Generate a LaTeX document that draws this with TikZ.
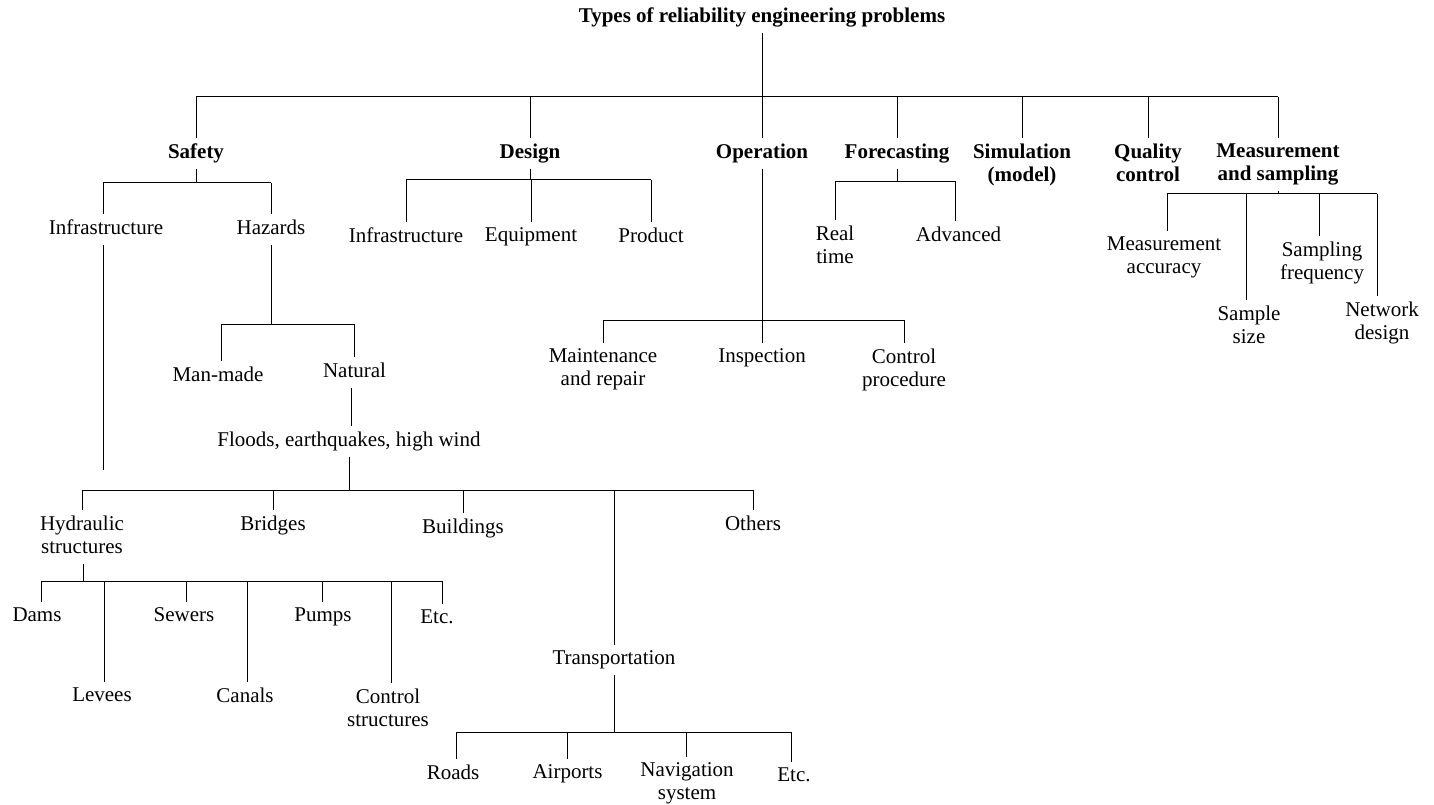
\documentclass[tikz,border=0pt]{standalone}
\usepackage{fontspec}
\setmainfont{Liberation Serif}
\newcommand\mystrut{\rule[-5pt]{0pt}{17pt}}
\begin{document}
\begin{tikzpicture}[x=1pt,y=-1pt, line width=1pt,
  lbl/.style={inner xsep=2pt, inner ysep=5pt, align=center, anchor=north, yshift=22pt,
    font=\fontsize{21}{23}\selectfont, execute at begin node=\mystrut},
  blbl/.style={lbl, font=\fontsize{21}{23}\selectfont\bfseries}]
\useasboundingbox (0,0) rectangle (1434,805);
% nodes (positions: x = text centre, y = first baseline)
\node[blbl] (title) at (762,24) {Types of reliability engineering problems};
\node[blbl] (safety) at (196,160) {Safety};
\node[blbl] (design) at (530,160) {Design};
\node[blbl] (operation) at (762,160) {Operation};
\node[blbl] (forecasting) at (897,160) {Forecasting};
\node[blbl] (simulation) at (1022,160) {Simulation\\(model)\mystrut};
\node[blbl] (quality) at (1148,160) {Quality\\control\mystrut};
\node[blbl] (measure) at (1278,160) {Measurement\\and sampling\mystrut};
\node[lbl] (sinfra) at (106,236) {Infrastructure};
\node[lbl] (hazards) at (271,236) {Hazards};
\node[lbl] (dinfra) at (406,244) {Infrastructure};
\node[lbl] (equip) at (531,244) {Equipment};
\node[lbl] (product) at (651,244) {Product};
\node[lbl] (realtime) at (835,242) {Real\\time\mystrut};
\node[lbl] (advanced) at (958.5,243) {Advanced};
\node[lbl] (macc) at (1164,253) {Measurement\\accuracy\mystrut};
\node[lbl] (ssize) at (1249,322) {Sample\\size\mystrut};
\node[lbl] (sfreq) at (1322,258) {Sampling\\frequency\mystrut};
\node[lbl] (netd) at (1382,318) {Network\\design\mystrut};
\node[lbl] (manmade) at (218,383) {Man-made};
\node[lbl] (natural) at (354.5,379) {Natural};
\node[lbl] (floods) at (349,448) {Floods, earthquakes, high wind};
\node[lbl] (maint) at (603,365) {Maintenance\\and repair\mystrut};
\node[lbl] (insp) at (762,365) {Inspection};
\node[lbl] (cproc) at (904,365) {Control\\procedure\mystrut};
\node[lbl] (hydro) at (82,532) {Hydraulic\\structures\mystrut};
\node[lbl] (bridges) at (273,532) {Bridges};
\node[lbl] (buildings) at (463,535) {Buildings};
\node[lbl] (transp) at (614,667) {Transportation};
\node[lbl] (others) at (753,532) {Others};
\node[lbl] (dams) at (37,624) {Dams};
\node[lbl] (levees) at (102,704) {Levees};
\node[lbl] (sewers) at (184,624) {Sewers};
\node[lbl] (canals) at (245,704) {Canals};
\node[lbl] (pumps) at (323,624) {Pumps};
\node[lbl] (cstruct) at (388,705) {Control\\structures\mystrut};
\node[lbl] (etca) at (437,626) {Etc.};
\node[lbl] (roads) at (453,781) {Roads};
\node[lbl] (airports) at (567.5,781) {Airports};
\node[lbl] (navsys) at (687,779) {Navigation\\system\mystrut};
\node[lbl] (etcb) at (794,784) {Etc.};
% bar levels
\coordinate (bTop) at (0,97);
\coordinate (bSafety) at (0,183);
\coordinate (bDesign) at (0,180);
\coordinate (bFore) at (0,182);
\coordinate (bMeas) at (0,194);
\coordinate (bHaz) at (0,324);
\coordinate (bOper) at (0,320);
\coordinate (bFlood) at (0,490);
\coordinate (bHydro) at (0,581);
\coordinate (bTransp) at (0,732);
\coordinate (endInfra) at (0,470);
% root
\draw (title.south) -- (operation.north);
\draw (safety.north |- bTop) -- (measure.north |- bTop);
\foreach \c in {safety,design,forecasting,simulation,quality,measure}
  \draw (\c.north |- bTop) -- (\c.north);
% safety
\draw (safety.south) -- (safety.south |- bSafety);
\draw ([xshift=-3pt]sinfra.north |- bSafety) -- (hazards.north |- bSafety);
\foreach \c/\d in {sinfra/-3,hazards/0} \draw ([xshift=\d pt]\c.north |- bSafety) -- ([xshift=\d pt]\c.north);
\draw ([xshift=-3pt]sinfra.south) -- ([xshift=-3pt]sinfra.south |- endInfra);
% design
\draw (design.south) -- (design.south |- bDesign);
\draw (dinfra.north |- bDesign) -- (product.north |- bDesign);
\foreach \c in {dinfra,equip,product} \draw (\c.north |- bDesign) -- (\c.north);
% forecasting
\draw (forecasting.south) -- (forecasting.south |- bFore);
\draw (realtime.north |- bFore) -- ([xshift=-3pt]advanced.north |- bFore);
\foreach \c/\d in {realtime/0,advanced/-3} \draw ([xshift=\d pt]\c.north |- bFore) -- ([xshift=\d pt]\c.north);
% measurement
\draw (measure.south) -- (measure.south |- bMeas);
\draw ([xshift=3pt]macc.north |- bMeas) -- ([xshift=-5pt]netd.north |- bMeas);
\foreach \c/\d in {macc/3,ssize/-3,sfreq/-3,netd/-5} \draw ([xshift=\d pt]\c.north |- bMeas) -- ([xshift=\d pt]\c.north);
% hazards
\draw (hazards.south) -- (hazards.south |- bHaz);
\draw ([xshift=3pt]manmade.north |- bHaz) -- (natural.north |- bHaz);
\foreach \c/\d in {manmade/3,natural/0} \draw ([xshift=\d pt]\c.north |- bHaz) -- ([xshift=\d pt]\c.north);
\draw ([xshift=-3pt]natural.south) -- ([xshift=-3pt]natural.south |- floods.north);
% operation
\draw (operation.south) -- (insp.north);
\draw (maint.north |- bOper) -- (cproc.north |- bOper);
\foreach \c in {maint,cproc} \draw (\c.north |- bOper) -- (\c.north);
% floods
\draw (floods.south) -- (floods.south |- bFlood);
\draw (hydro.north |- bFlood) -- (others.north |- bFlood);
\foreach \c in {hydro,bridges,buildings,transp,others} \draw (\c.north |- bFlood) -- (\c.north);
% hydraulic
\draw ([xshift=1pt]hydro.south) -- ([xshift=1pt]hydro.south |- bHydro);
\draw ([xshift=4pt]dams.north |- bHydro) -- ([xshift=5pt]etca.north |- bHydro);
\foreach \c/\d in {dams/4,levees/2,sewers/2,canals/2,pumps/-1,cstruct/3,etca/5}
  \draw ([xshift=\d pt]\c.north |- bHydro) -- ([xshift=\d pt]\c.north);
% transportation
\draw (transp.south) -- (transp.south |- bTransp);
\draw ([xshift=3pt]roads.north |- bTransp) -- ([xshift=-3pt]etcb.north |- bTransp);
\foreach \c/\d in {roads/3,airports/0,navsys/-1,etcb/-3}
  \draw ([xshift=\d pt]\c.north |- bTransp) -- ([xshift=\d pt]\c.north);
\end{tikzpicture}
\end{document}
